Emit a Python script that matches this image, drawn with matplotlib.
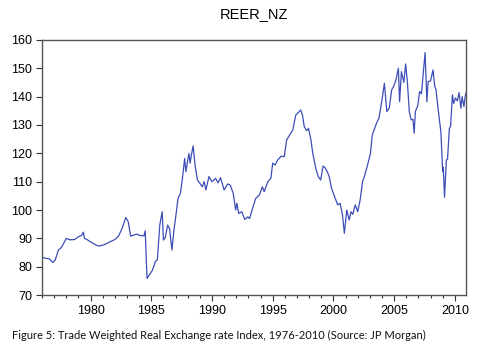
import matplotlib
matplotlib.use("Agg")
import matplotlib.pyplot as plt
from matplotlib.ticker import MultipleLocator

# (approximate decimal year, index value)
years = [
    1976.0, 1976.3, 1976.6, 1976.9, 1977.1, 1977.35, 1977.6, 1978.0, 1978.3, 1978.7,
    1979.0, 1979.25, 1979.4, 1979.5, 1979.7, 1980.1, 1980.4, 1980.65, 1981.0, 1981.2,
    1981.6, 1982.0, 1982.3, 1982.6, 1982.9, 1983.1, 1983.3, 1983.6, 1983.8, 1984.1,
    1984.4, 1984.5, 1984.65, 1984.9, 1985.1, 1985.35, 1985.5, 1985.7, 1985.9, 1986.0,
    1986.15, 1986.35, 1986.5, 1986.7, 1986.85, 1987.05, 1987.2, 1987.4, 1987.55, 1987.75,
    1987.85, 1988.1, 1988.2, 1988.3, 1988.45, 1988.6, 1988.8, 1989.0, 1989.2, 1989.35,
    1989.5, 1989.75, 1990.0, 1990.3, 1990.5, 1990.7, 1991.0, 1991.3, 1991.5, 1991.75,
    1991.95, 1992.05, 1992.2, 1992.45, 1992.7, 1992.95, 1993.1, 1993.3, 1993.6, 1993.9,
    1994.15, 1994.3, 1994.6, 1994.85, 1995.0, 1995.2, 1995.4, 1995.7, 1995.95, 1996.15,
    1996.4, 1996.65, 1996.9, 1997.1, 1997.3, 1997.45, 1997.6, 1997.8, 1997.95, 1998.15,
    1998.3, 1998.55, 1998.75, 1998.95, 1999.15, 1999.3, 1999.5, 1999.65, 1999.85, 2000.1,
    2000.35, 2000.55, 2000.75, 2000.9, 2001.1, 2001.3, 2001.45, 2001.6, 2001.8, 2002.0,
    2002.2, 2002.4, 2002.55, 2002.7, 2002.85, 2003.05, 2003.2, 2003.35, 2003.55, 2003.75,
    2004.0, 2004.2, 2004.4, 2004.6, 2004.8, 2004.95, 2005.15, 2005.35, 2005.45, 2005.6,
    2005.8, 2005.95, 2006.1, 2006.25, 2006.4, 2006.55, 2006.65, 2006.75, 2006.95, 2007.1,
    2007.25, 2007.4, 2007.55, 2007.7, 2007.8, 2008.0, 2008.2, 2008.35, 2008.45, 2008.6,
    2008.85, 2009.0, 2009.05, 2009.15, 2009.3, 2009.4, 2009.55, 2009.65, 2009.8, 2009.9,
    2010.05, 2010.2, 2010.35, 2010.5, 2010.6, 2010.75, 2010.85, 2010.92,
]
reer = [
    83.3, 83.0, 82.8, 81.5, 82.5, 85.9, 86.8, 90.0, 89.5, 89.6,
    90.6, 91.0, 92.2, 90.0, 89.6, 88.5, 87.8, 87.3, 87.6, 87.9,
    88.8, 89.6, 90.8, 93.5, 97.4, 95.9, 90.8, 91.2, 91.5, 91.0,
    90.9, 92.7, 75.9, 77.5, 78.8, 82.0, 82.4, 94.7, 99.4, 89.4,
    90.3, 94.7, 93.5, 85.9, 92.4, 98.8, 104.1, 105.9, 110.6, 118.2,
    113.5, 120.0, 116.5, 119.4, 122.6, 116.0, 110.6, 109.4, 108.2, 110.0,
    107.1, 111.8, 110.0, 111.2, 109.6, 111.4, 107.1, 109.2, 108.8, 105.9,
    100.0, 102.4, 98.8, 99.4, 96.7, 97.6, 97.0, 100.0, 104.1, 105.3,
    108.2, 106.5, 110.0, 111.2, 116.5, 115.9, 117.6, 119.0, 118.8, 124.7,
    126.5, 128.2, 133.5, 134.3, 135.3, 133.5, 129.4, 128.0, 128.8, 124.7,
    120.0, 114.7, 111.8, 110.6, 115.5, 115.0, 113.5, 111.8, 107.6, 104.7,
    101.8, 102.4, 98.2, 91.8, 100.0, 96.5, 99.4, 98.5, 101.8, 99.4,
    103.5, 110.0, 111.8, 114.1, 116.5, 120.0, 126.5, 128.2, 130.6, 132.4,
    138.8, 144.7, 134.7, 136.0, 142.4, 143.5, 145.9, 150.0, 138.2, 148.8,
    145.0, 151.5, 144.7, 134.7, 131.8, 132.0, 127.1, 134.7, 136.9, 141.8,
    141.0, 148.2, 155.5, 138.2, 145.3, 145.5, 149.4, 143.5, 142.5, 136.5,
    127.6, 113.5, 115.0, 104.5, 117.6, 118.0, 128.8, 129.5, 140.6, 137.6,
    139.5, 138.5, 141.4, 135.9, 140.0, 136.5, 140.0, 141.4,
]
y_ticks = [70, 80, 90, 100, 110, 120, 130, 140, 150, 160]
x_ticks = [1980, 1985, 1990, 1995, 2000, 2005, 2010]

plt.rcParams['font.family'] = ['Liberation Sans', 'DejaVu Sans']

fig = plt.figure(figsize=(5.0, 3.53), dpi=100)
ax = fig.add_axes([0.084, 0.164, 0.848, 0.723])

ax.plot(years, reer, color='#3D4DB7', linewidth=0.9)

ax.set_xlim(1976.0, 2010.92)
ax.set_ylim(70, 160)
ax.set_yticks(y_ticks)
ax.set_xticks(x_ticks)
ax.xaxis.set_minor_locator(MultipleLocator(1))
ax.tick_params(axis='both', which='major', labelsize=9, direction='out',
               length=4, width=0.8, color='#333333', pad=3)
ax.tick_params(axis='x', which='minor', direction='out', length=2.5, width=0.8,
               color='#333333')
for s in ax.spines.values():
    s.set_color('#555555')
    s.set_linewidth(1.0)

fig.text(0.508, 0.96, 'REER_NZ', ha='center', va='center', fontsize=10.5)
fig.text(0.024, 0.05, 'Figure 5: Trade Weighted Real Exchange rate Index, 1976-2010 (Source: JP Morgan)',
         ha='left', va='center', fontsize=8.0, family=['Lato', 'DejaVu Sans'],
         color='#111111')

fig.savefig('out.png', dpi=100)
